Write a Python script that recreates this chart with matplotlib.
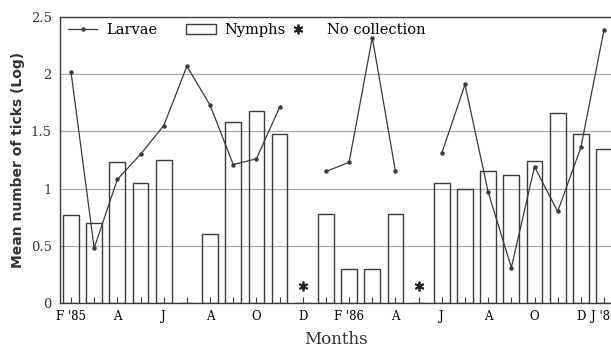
import matplotlib.pyplot as plt
import numpy as np
from matplotlib.legend import Legend
from matplotlib.lines import Line2D
from matplotlib.patches import Rectangle

# Monthly collections, Feb 1985 - Jan 1987 (log mean tick counts)
months = ["F", "M", "A", "M", "J", "J", "A", "S", "O", "N", "D",
          "J", "F", "M", "A", "M", "J", "J", "A", "S", "O", "N", "D", "J"]
nymphs = [0.77, 0.70, 1.23, 1.05, 1.25, 0.0, 0.60, 1.58, 1.68, 1.48, np.nan,
          0.78, 0.30, 0.30, 0.78, np.nan, 1.05, 1.00, 1.15, 1.12, 1.24, 1.66, 1.48, 1.35]
larvae = [2.02, 0.48, 1.08, 1.30, 1.55, 2.07, 1.73, 1.21, 1.26, 1.71, np.nan,
          1.15, 1.23, 2.32, 1.15, np.nan, 1.31, 1.91, 0.97, 0.31, 1.19, 0.80, 1.36, 2.39]
no_collection = [10, 15]  # month index with no sampling

tick_pos = [0, 2, 4, 6, 8, 10, 12, 14, 16, 18, 20, 22, 23]
tick_lab = ["F '85", "A", "J", "A", "O", "D", "F '86", "A", "J", "A", "O", "D", "J '87"]

serif = "DejaVu Serif"
ink = "#3a3a3a"
star = (6, 2, 0)

fig = plt.figure(figsize=(6.11, 3.51), dpi=100)
ax = fig.add_axes([60 / 611, 48 / 351, 551 / 611, 286 / 351])

x = np.arange(len(months))
nym = np.array(nymphs, dtype=float)

for yv in [0.5, 1.0, 1.5, 2.0]:
    ax.axhline(yv, color="#a8a8a8", lw=0.9, zorder=1)

ax.bar(x, np.nan_to_num(nym), width=0.68, facecolor="none", edgecolor=ink,
       linewidth=1.0, zorder=2)
ax.plot(x, larvae, color=ink, lw=0.9, marker="o", ms=2.2, zorder=3)
ax.plot(no_collection, [0.15] * len(no_collection), linestyle="none",
        marker=star, ms=7, color="#222222", mew=1.3, zorder=3)

ax.set_xlim(-0.475, 23.3)
ax.set_ylim(0, 2.5)
ax.spines["right"].set_visible(False)
for s in ["left", "bottom", "top"]:
    ax.spines[s].set_color(ink)
    ax.spines[s].set_linewidth(1.0)

ax.set_xticks(tick_pos)
ax.set_xticklabels(tick_lab, fontfamily=serif, fontsize=8.5)
ax.set_xticks(x, minor=True)
ax.tick_params(axis="x", which="both", direction="in", length=4, width=0.8,
               color=ink, pad=5)
ax.set_yticks([0, 0.5, 1, 1.5, 2, 2.5])
ax.set_yticklabels(["0", "0.5", "1", "1.5", "2", "2.5"], fontfamily=serif,
                   fontsize=9.5, color="#333333")
ax.tick_params(axis="y", length=0, pad=6)

ax.set_ylabel("Mean number of ticks (Log)", fontsize=10, fontweight="bold",
              color="#333333", labelpad=4)
ax.set_xlabel("Months", fontfamily=serif, fontsize=12, color="#333333", labelpad=6)

# three separate legend entries laid out along the top
entries = [
    (Line2D([], [], color=ink, lw=0.9, marker="o", ms=2.2), "Larvae", 0.0145, 2.0, 0.6),
    (Rectangle((0, 0), 1, 1, facecolor="none", edgecolor=ink, lw=1.0), "Nymphs", 0.2287, 2.05, 0.55),
    (Line2D([], [], linestyle="none", marker=star, ms=7, mew=1.3, color="#222222"),
     "No collection", 0.419, 1.0, 1.45),
]
for handle, label, xa, hl, pad in entries:
    leg = Legend(ax, [handle], [label], frameon=False, loc="center left",
                 bbox_to_anchor=(xa, 0.955), borderpad=0, borderaxespad=0,
                 handlelength=hl, handletextpad=pad,
                 prop={"family": serif, "size": 10.5})
    ax.add_artist(leg)

fig.savefig("out.png", dpi=100)
